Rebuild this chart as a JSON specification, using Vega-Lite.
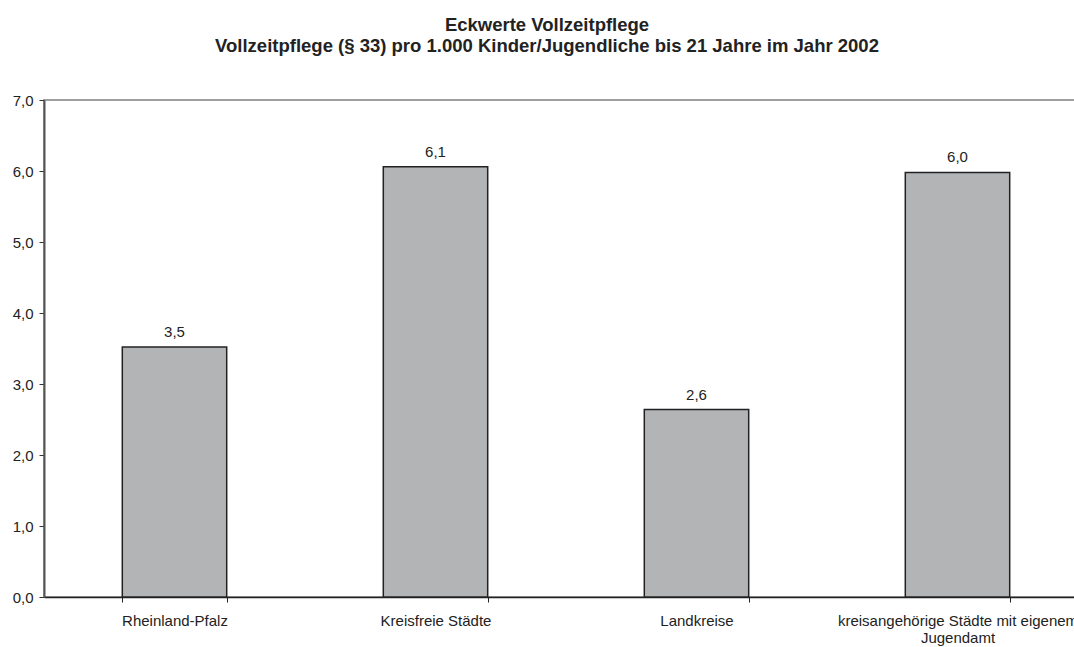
{
  "$schema": "https://vega.github.io/schema/vega-lite/v6.json",
  "autosize": "none",
  "width": 1044,
  "height": 497,
  "padding": {"left": 44, "top": 100, "right": 0, "bottom": 50},
  "background": "white",
  "title": {
    "text": ["Eckwerte Vollzeitpflege", "Vollzeitpflege (§ 33) pro 1.000 Kinder/Jugendliche bis 21 Jahre im Jahr 2002"],
    "font": "Liberation Sans",
    "fontSize": 18.5,
    "fontWeight": "bold",
    "color": "#222222",
    "anchor": "middle",
    "frame": "group",
    "dx": -19,
    "offset": 38,
    "lineHeight": 21
  },
  "config": {
    "view": {"stroke": "#A0A0A0", "strokeWidth": 2},
    "font": "Liberation Sans",
    "locale": {
      "number": {"decimal": ",", "thousands": ".", "grouping": [3], "currency": ["", " €"]}
    }
  },
  "data": {
    "values": [
      {"region": "Rheinland-Pfalz", "value": 3.52},
      {"region": "Kreisfreie Städte", "value": 6.06},
      {"region": "Landkreise", "value": 2.64},
      {"region": "kreisangehörige Städte mit eigenem Jugendamt", "value": 5.98}
    ]
  },
  "encoding": {
    "x": {
      "field": "region",
      "type": "nominal",
      "sort": null,
      "scale": {"paddingInner": 0.6, "paddingOuter": 0.3},
      "axis": {
        "title": null,
        "labelAngle": 0,
        "labelFont": "Liberation Sans",
        "labelFontSize": 15,
        "labelColor": "#222222",
        "labelLimit": 400,
        "labelPadding": 11,
        "labelBaseline": "top",
        "labelLineHeight": 17,
        "labelExpr": "datum.label == 'kreisangehörige Städte mit eigenem Jugendamt' ? ['kreisangehörige Städte mit eigenem', 'Jugendamt'] : datum.label",
        "domainColor": "#222222",
        "domainWidth": 1.5,
        "tickColor": "#222222",
        "tickSize": 5,
        "tickBand": "extent",
        "grid": false
      }
    },
    "y": {
      "field": "value",
      "type": "quantitative",
      "scale": {"domain": [0, 7], "nice": false},
      "axis": {
        "title": null,
        "values": [0, 1, 2, 3, 4, 5, 6, 7],
        "format": ".1f",
        "labelFont": "Liberation Sans",
        "labelFontSize": 15,
        "labelColor": "#222222",
        "labelPadding": 6,
        "domainColor": "#555555",
        "domainWidth": 2,
        "tickColor": "#333333",
        "tickSize": 5,
        "grid": false
      }
    }
  },
  "layer": [
    {
      "mark": {"type": "bar", "color": "#B2B4B6", "stroke": "#222222", "strokeWidth": 1.5}
    },
    {
      "mark": {"type": "text", "baseline": "alphabetic", "dy": -10, "font": "Liberation Sans", "fontSize": 15, "color": "#222222"},
      "encoding": {
        "text": {"field": "value", "type": "quantitative", "format": ".1f"}
      }
    }
  ]
}
